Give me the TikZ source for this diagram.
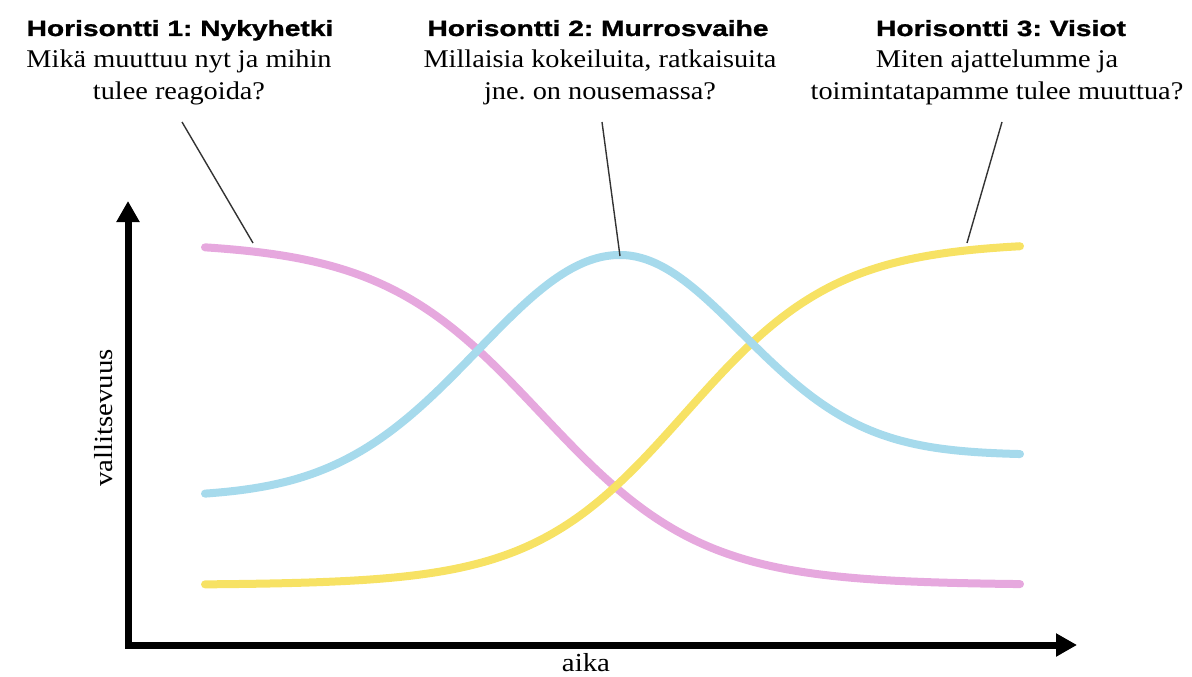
\documentclass[tikz,border=0pt]{standalone}
\usepackage{fontspec}
\setmainfont{Liberation Serif}[FakeStretch=1.11]
\newfontfamily\titlefont{Liberation Sans}[FakeStretch=1.28, FakeBold=1.2]
\usetikzlibrary{arrows.meta}

\definecolor{pinkline}{RGB}{230,168,222}
\definecolor{blueline}{RGB}{166,218,236}
\definecolor{yellowline}{RGB}{247,226,100}

\frenchspacing
\begin{document}
\begin{tikzpicture}[x=1pt, y=-1pt]
    \tikzstyle{title}=[anchor=base, inner sep=0pt, font=\titlefont\bfseries\fontsize{22}{26}\selectfont]
    \tikzstyle{question}=[anchor=north, inner sep=0pt, align=center, font=\fontsize{25.5}{32}\selectfont]
    \tikzstyle{axis}=[line width=7pt, line join=miter, {Triangle[length=21pt,width=22pt]}-{Triangle[length=21pt,width=22pt]}]
    \tikzstyle{curve}=[line width=8pt, line cap=round, smooth]
    \tikzstyle{pointer}=[line width=1.4pt, draw=black!80]
    \tikzstyle{axislabel}=[inner sep=0pt, font=\fontsize{26}{30}\selectfont]

    \useasboundingbox (0,0) rectangle (1192,677);

    % horizons
    \node[title] (T1) at (180,36) {Horisontti 1: Nykyhetki};
    \node[title] (T2) at (598,36) {Horisontti 2: Murrosvaihe};
    \node[title] (T3) at (1001,36) {Horisontti 3: Visiot};

    \node[question] (Q1) at (179,50) {Mikä muuttuu nyt ja mihin\\tulee reagoida?};
    \node[question] (Q2) at (600,50) {Millaisia kokeiluita, ratkaisuita\\jne. on nousemassa?};
    \node[question] (Q3) at (997,50) {Miten ajattelumme ja\\toimintatapamme tulee muuttua?};

    % axes
    \coordinate (O) at (128,645);
    \coordinate (Ytop) at (128,201);
    \coordinate (Xend) at (1077,645);
    \draw[axis] (Ytop) -- (O) -- (Xend);
    \node[axislabel, rotate=90] (ylab) at (104,418) {vallitsevuus};
    \node[axislabel, anchor=base] (xlab) at (586,671) {aika};

    % curves
    \draw[curve, pinkline] plot[domain=205:1020, samples=120]
        (\x, {242+343/(1+exp(-(\x-541)/81))});
    \draw[curve, yellowline] plot[domain=205:1020, samples=120]
        (\x, {585-343/(1+exp(-(\x-685)/76.5))});
    \draw[curve, blueline] plot[domain=205:620, samples=80]
        (\x, {497-242*exp(-((\x-620)/201)^2)});
    \draw[curve, blueline] plot[domain=620:1020, samples=80]
        (\x, {455-200*exp(-((\x-620)/173)^2)});

    % pointers
    \coordinate (A1) at (182,122);
    \coordinate (A2) at (602,122);
    \coordinate (A3) at (1002,122);
    \coordinate (P1) at (253,243);
    \coordinate (P2) at (620,256);
    \coordinate (P3) at (967,243);
    \draw[pointer] (A1) -- (P1);
    \draw[pointer] (A2) -- (P2);
    \draw[pointer] (A3) -- (P3);
\end{tikzpicture}
\end{document}
